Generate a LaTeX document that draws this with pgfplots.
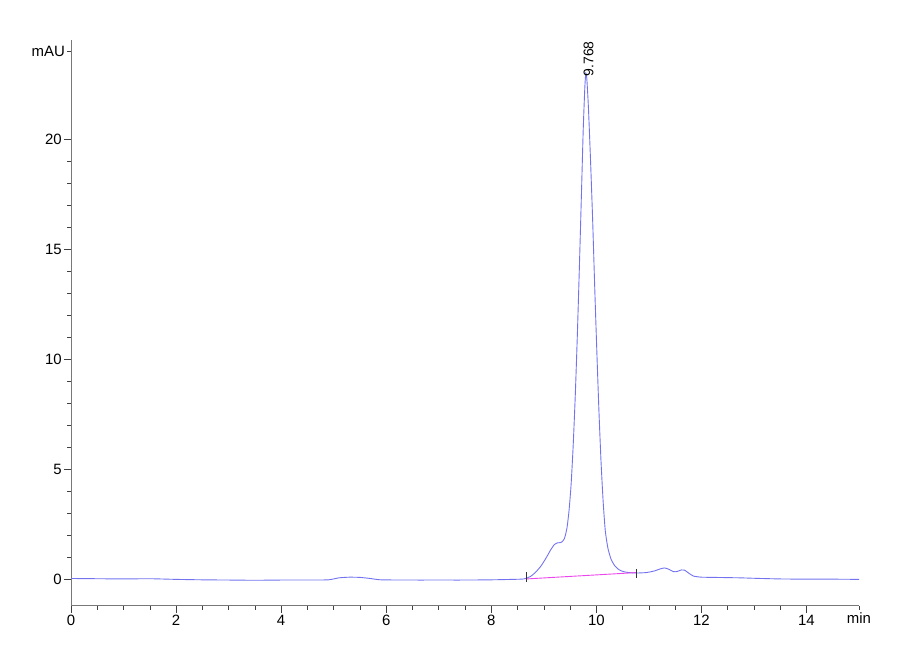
\documentclass[border=0pt]{standalone}
\usepackage{fontspec}
\setmainfont{Liberation Sans}
\usepackage{pgfplots}
\pgfplotsset{compat=1.18}
\definecolor{trace}{RGB}{115,115,240}
\definecolor{basel}{RGB}{235,70,235}
\definecolor{axisgray}{RGB}{120,120,120}

\begin{document}
\begin{tikzpicture}
\fontsize{15}{17}\selectfont
\useasboundingbox (0,0) rectangle (900bp,660bp);
\begin{axis}[
    at={(71bp,54bp)}, anchor=south west,
    scale only axis,
    width=788bp, height=566bp,
    xmin=0, xmax=15,
    ymin=-1.23, ymax=24.5,
    axis lines*=left,
    axis line style={axisgray, line width=1bp},
    tick align=outside,
    tick style={black!75, line width=0.6bp},
    major tick length=7bp,
    minor tick length=4bp,
    xtick={0,2,...,14},
    ytick={0,5,...,20},
    minor x tick num=3,
    minor y tick num=4,
    extra x ticks={15}, extra x tick labels={min},
    extra y ticks={24}, extra y tick labels={mAU},
    extra tick style={major tick length=4bp},
    tick label style={font=\fontsize{15}{17}\selectfont},
    /pgf/number format/assume math mode=true,
    xticklabel style={inner sep=2bp},
    yticklabel style={inner sep=2bp},
    clip=false,
]
% chromatogram trace
\addplot[trace, line width=0.9bp, smooth, tension=0.35] coordinates {
(0,0.02) (0.5,0.01) (1.0,0.0) (1.5,0.01) (2.0,-0.02) (2.5,-0.04)
(3.0,-0.05) (3.5,-0.06) (4.0,-0.05) (4.5,-0.05) (4.9,-0.04)
(5.1,0.05) (5.3,0.08) (5.5,0.07) (5.7,0.02) (5.9,-0.04)
(6.5,-0.05) (7.0,-0.05) (7.5,-0.05) (8.0,-0.04) (8.4,-0.02)
(8.62,0.0) (8.75,0.12) (8.85,0.32) (8.95,0.6) (9.05,0.98) (9.13,1.32)
(9.2,1.56) (9.26,1.64) (9.33,1.66) (9.39,1.82) (9.44,2.3) (9.48,3.1)
(9.52,4.3) (9.56,6.1) (9.60,8.4) (9.64,11.2) (9.68,14.4) (9.72,17.8)
(9.75,20.4) (9.78,22.3) (9.80,23.0) (9.82,22.7) (9.85,21.4)
(9.89,19.0) (9.93,16.3) (9.97,13.2) (10.01,10.3) (10.05,7.6)
(10.09,5.3) (10.13,3.5) (10.17,2.2) (10.22,1.4) (10.28,0.9)
(10.35,0.6) (10.43,0.42) (10.52,0.33) (10.62,0.29)
(10.77,0.27) (10.95,0.29) (11.1,0.36) (11.22,0.46) (11.3,0.5) (11.38,0.44)
(11.47,0.33) (11.54,0.34) (11.62,0.41) (11.68,0.4) (11.76,0.26) (11.85,0.13)
(12.0,0.08) (12.25,0.07) (12.5,0.06) (12.75,0.05) (13.0,0.03)
(13.5,0.0) (14.0,-0.01) (14.5,-0.01) (15,-0.02)
};
% integration baseline
\addplot[basel, line width=0.9bp] coordinates {(8.67,0.0) (10.77,0.29)};
% peak start / end markers
\addplot[black!80, line width=0.6bp] coordinates {(8.67,-0.15) (8.67,0.3)};
\addplot[black!80, line width=0.6bp] coordinates {(10.77,0.05) (10.77,0.45)};
\node[rotate=90, anchor=west, inner sep=1bp, font=\fontsize{14}{16}\selectfont]
    at (axis cs:9.85,22.8) {9.768};
\end{axis}
\end{tikzpicture}
\end{document}
